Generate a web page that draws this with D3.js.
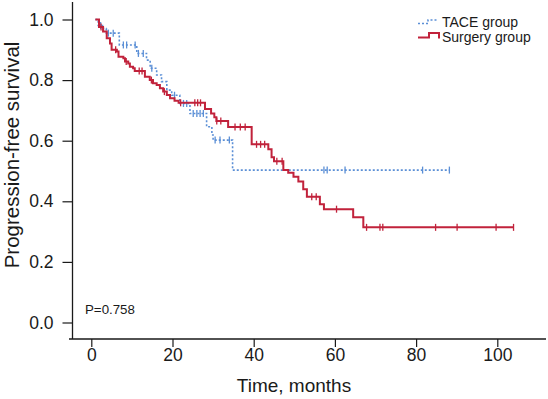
<!DOCTYPE html>
<html>
<head>
<meta charset="utf-8">
<script src="https://cdn.jsdelivr.net/npm/d3@7"></script>
<style>
  body { margin: 0; background: #fff; }
  text { font-family: "Liberation Sans", Arial, Helvetica, sans-serif; fill: #1a1a1a; }
</style>
</head>
<body>
<svg id="drawing_region"></svg>
<script>
// Kaplan-Meier steps: [month, survival after drop]
const surgery_steps = [
  [1.9,0.975],[2.9,0.96],[3.8,0.938],[4.6,0.921],[5.0,0.9],[6.3,0.894],[6.7,0.877],
  [7.9,0.872],[8.3,0.861],[9.1,0.855],[9.5,0.844],[10.3,0.839],[10.7,0.83],[13.2,0.811],
  [14.4,0.8],[15.2,0.79],[16.1,0.784],[16.9,0.773],[17.7,0.762],[18.6,0.751],[19.4,0.74],
  [20.5,0.732],[21.5,0.725],[28.0,0.705],[29.5,0.69],[30.3,0.677],[30.8,0.665],[33.7,0.645],
  [39.5,0.588],[43.6,0.572],[44.4,0.545],[45.0,0.532],[47.3,0.503],[48.5,0.494],[49.8,0.481],
  [51.0,0.465],[52.2,0.44],[53.1,0.415],[56.3,0.39],[57.3,0.374],[64.5,0.347],[67.0,0.314]
];
const surgery_censored = [2.4,6.0,8.6,11.8,12.5,14.8,18.0,22.0,25.5,26.2,26.9,30.9,31.9,
  35.4,36.7,37.9,40.7,41.7,42.7,45.7,47.0,54.3,55.4,60.4,67.8,71.1,71.8,84.8,90.1,99.7,104];
const surgery_end = 104;

const tace_steps = [
  [1.7,0.98],[3.0,0.97],[3.7,0.955],[6.9,0.916],[11.2,0.888],[13.6,0.866],[14.5,0.839],
  [16.1,0.817],[17.3,0.795],[18.6,0.767],[19.8,0.75],[21.8,0.723],[24.3,0.69],[28.4,0.646],
  [29.7,0.619],[30.0,0.602],[34.8,0.503]
];
const tace_censored = [2.3,4.2,5.4,7.9,8.7,10.8,11.6,12.8,14.9,20.5,22.7,23.5,25.1,26.0,26.8,
  27.6,30.5,31.7,34.0,57.3,58.1,62.5,81.6,88.2];
const tace_end = 88.2;

const start_month = 1;
const x_ticks = [0,20,40,60,80,100];
const y_ticks = [0,0.2,0.4,0.6,0.8,1.0];
const group_names = ["TACE group","Surgery group"];
const p_label = "P=0.758";

const config = {
    width: 548,
    height: 399,
    x_range: [91.3, 497.3],
    y_range: [322.5, 19.5],
    axis_x: 72.5,
    axis_y: 339
};

const svg = d3.select('#drawing_region')
    .attr('width', config.width)
    .attr('height', config.height);

const xscale = d3.scaleLinear().domain([0,100]).range(config.x_range);
const yscale = d3.scaleLinear().domain([0,1]).range(config.y_range);

// axes
const xaxis = d3.axisBottom(xscale).tickValues(x_ticks).tickSize(8).tickPadding(1.5);
const yaxis = d3.axisLeft(yscale).tickValues(y_ticks).tickSize(10).tickPadding(9)
    .tickFormat(d3.format('.1f'));

const xg = svg.append('g')
    .attr('transform', `translate(0, ${config.axis_y})`)
    .call(xaxis);
const yg = svg.append('g')
    .attr('transform', `translate(${config.axis_x}, 0)`)
    .call(yaxis);

[xg, yg].forEach(g => {
    g.select('.domain').remove();
    g.selectAll('line').attr('stroke', '#1a1a1a').attr('stroke-width', 1.2);
    g.selectAll('text').attr('font-size', 17.5).attr('fill', '#1a1a1a')
        .attr('font-family', '"Liberation Sans", Arial, sans-serif');
});

svg.append('path')
    .attr('d', `M${config.axis_x},2 V${config.axis_y} M69,${config.axis_y} H546`)
    .attr('stroke', '#1a1a1a')
    .attr('stroke-width', 1.3)
    .attr('fill', 'none');

// curves
function points(steps, end) {
    const pts = [[start_month, 1]].concat(steps);
    pts.push([end, steps[steps.length-1][1]]);
    return pts;
}
function survival_at(steps, t) {
    let s = 1;
    steps.forEach(d => { if (d[0] <= t) s = d[1]; });
    return s;
}

const line = d3.line()
    .x(d => xscale(d[0]))
    .y(d => yscale(d[1]))
    .curve(d3.curveStepAfter);

const groups = [
    { steps: tace_steps, cens: tace_censored, end: tace_end, color: '#5b8fd6', width: 1.6, dash: '2,2' },
    { steps: surgery_steps, cens: surgery_censored, end: surgery_end, color: '#c1223b', width: 2, dash: null }
];

groups.forEach(g => {
    svg.append('path')
        .datum(points(g.steps, g.end))
        .attr('d', line)
        .attr('fill', 'none')
        .attr('stroke', g.color)
        .attr('stroke-width', g.width)
        .attr('stroke-dasharray', g.dash);

    svg.append('g').selectAll('line')
        .data(g.cens)
        .enter()
        .append('line')
        .attr('x1', d => xscale(d))
        .attr('x2', d => xscale(d))
        .attr('y1', d => yscale(survival_at(g.steps, d)) - 3.5)
        .attr('y2', d => yscale(survival_at(g.steps, d)) + 3.5)
        .attr('stroke', g.color)
        .attr('stroke-width', 1.3);
});

// legend
const legend = svg.append('g');
legend.append('path')
    .attr('d', 'M418,23.5 H428 V20 H438')
    .attr('fill', 'none')
    .attr('stroke', groups[0].color)
    .attr('stroke-width', 1.6)
    .attr('stroke-dasharray', '2,2');
legend.append('path')
    .attr('d', 'M418,37.5 H429 V33 H439 V38.5')
    .attr('fill', 'none')
    .attr('stroke', groups[1].color)
    .attr('stroke-width', 2);
legend.selectAll('text.lg')
    .data(group_names)
    .enter()
    .append('text')
    .attr('class', 'lg')
    .attr('x', 442)
    .attr('y', (d,i) => 26.5 + i*15.5)
    .attr('font-size', 14)
    .text(d => d);

// labels
svg.append('text')
    .attr('x', 294)
    .attr('y', 392)
    .attr('text-anchor', 'middle')
    .attr('font-size', 19)
    .text('Time, months');

svg.append('text')
    .attr('transform', 'translate(19,155) rotate(-90)')
    .attr('text-anchor', 'middle')
    .attr('font-size', 20.5)
    .text('Progression-free survival');

svg.append('text')
    .attr('x', 85)
    .attr('y', 314)
    .attr('font-size', 13.3)
    .text(p_label);
</script>
</body>
</html>
